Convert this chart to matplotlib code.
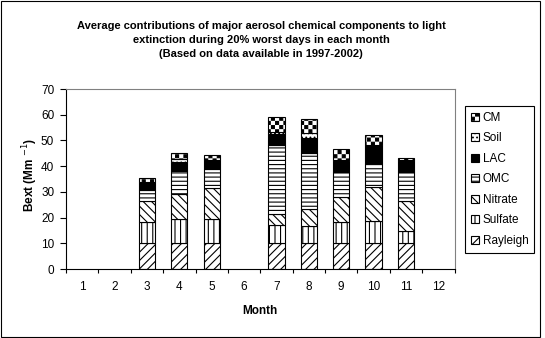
import warnings

import matplotlib
matplotlib.use("Agg")
import matplotlib.hatch as mhatch
import matplotlib.pyplot as plt
import numpy as np
from matplotlib.patches import Rectangle
from matplotlib.path import Path
from matplotlib.transforms import IdentityTransform

warnings.filterwarnings("ignore")

# extinction by component, Mm^-1, 20% worst days per month
months = [1, 2, 3, 4, 5, 6, 7, 8, 9, 10, 11, 12]
rayleigh = [0, 0, 10, 10, 10, 0, 10, 10, 10, 10, 10, 0]
sulfate = [0, 0, 8.2, 9.6, 9.6, 0, 7.3, 6.8, 8.3, 8.8, 4.9, 0]
nitrate = [0, 0, 8.2, 9.6, 12.0, 0, 4.2, 6.4, 9.6, 13.2, 11.7, 0]
omc = [0, 0, 4.3, 9.1, 7.4, 0, 26.7, 21.8, 10.0, 9.4, 11.3, 0]
lac = [0, 0, 3.2, 3.3, 3.4, 0, 4.3, 6.0, 4.0, 6.8, 4.2, 0]
soil = [0, 0, 0.1, 1.2, 0.1, 0, 0.7, 1.9, 0.6, 0.1, 0.1, 0]
cm = [0, 0, 1.4, 2.3, 1.8, 0, 5.8, 5.5, 4.2, 3.8, 1.0, 0]

components = ["Rayleigh", "Sulfate", "Nitrate", "OMC", "LAC", "Soil", "CM"]
series = [rayleigh, sulfate, nitrate, omc, lac, soil, cm]


class CheckerHatch(mhatch.HatchPatternBase):
    """Filled checkerboard, triggered by 'c' in the hatch string."""

    def __init__(self, hatch, density):
        self.num_cells = hatch.count("c") * density
        self.num_vertices = 5 * (self.num_cells ** 2 // 2) if self.num_cells else 0

    def set_vertices_and_codes(self, vertices, codes):
        n = self.num_cells
        s = 1.0 / n
        inset = 0.006
        k = 0
        for i in range(n):
            for j in range(n):
                if (i + j) % 2:
                    continue
                x0, y0 = i * s + inset, j * s + inset
                x1, y1 = (i + 1) * s - inset, (j + 1) * s - inset
                vertices[k:k + 5] = [(x0, y0), (x1, y0), (x1, y1), (x0, y1), (x0, y0)]
                codes[k:k + 5] = [Path.MOVETO, Path.LINETO, Path.LINETO,
                                  Path.LINETO, Path.CLOSEPOLY]
                k += 5


mhatch._hatch_types.append(CheckerHatch)

plt.rcParams["font.family"] = ["Liberation Sans", "DejaVu Sans"]
plt.rcParams["hatch.linewidth"] = 0.8
plt.rcParams["hatch.color"] = "black"

hatches = ["////", "|||", "\\\\\\\\", "----", None, "....", "cccc"]
faces = ["white", "white", "white", "white", "black", "white", "white"]

W, H = 545, 338
fig = plt.figure(figsize=(W / 100, H / 100), dpi=100)
ax = fig.add_axes([66 / W, (H - 269) / H, (454.5 - 66) / W, (269 - 89) / H])

x = np.arange(len(months))
bottom = np.zeros(len(months))
bars = []
for name, vals, hatch, face in zip(components, series, hatches, faces):
    vals = np.array(vals, dtype=float)
    # months without data get no bar at all
    shown = np.where(vals > 0, vals, np.nan)
    b = ax.bar(x, shown, width=0.5, bottom=bottom, color=face, edgecolor="black",
               linewidth=0.8, hatch=hatch, label=name)
    bars.append(b)
    bottom += vals

ax.set_xlim(-0.5, len(months) - 0.5)
ax.set_ylim(0, 70)
ax.set_yticks(np.arange(0, 71, 10))
ax.set_xticks(np.arange(len(months) + 1) - 0.5)
ax.set_xticklabels([])
ax.set_xticks(x, minor=True)
ax.set_xticklabels([str(m) for m in months], minor=True)
ax.tick_params(axis="x", which="major", direction="out", length=3, width=0.8)
ax.tick_params(axis="x", which="minor", length=0, pad=9, labelsize=8.5)
ax.tick_params(axis="y", direction="out", length=4.5, width=0.8, pad=4, labelsize=8.5)

for side in ("top", "right"):
    ax.spines[side].set_color("#808080")
    ax.spines[side].set_linewidth(0.8)
for side in ("left", "bottom"):
    ax.spines[side].set_linewidth(0.8)

ax.set_xlabel("Month", fontsize=8.5, fontweight="bold", labelpad=8)
ax.set_ylabel("Bext (Mm $^{-1}$)", fontsize=8.5, fontweight="bold")
ax.yaxis.set_label_coords(-0.067, 0.52)

fig.text(261 / W, 1 - 40 / H,
         "Average contributions of major aerosol chemical components to light\n"
         "extinction during 20% worst days in each month\n"
         "(Based on data available in 1997-2002)",
         ha="center", va="center", fontsize=8, fontweight="bold", linespacing=1.55)

leg = ax.legend([b[0] for b in bars[::-1]], components[::-1],
                loc="upper left", bbox_to_anchor=(465 / W, 1 - 106 / H),
                bbox_transform=fig.transFigure, borderaxespad=0, fontsize=8.5,
                handlelength=0.7, handleheight=0.7, handletextpad=0.3,
                labelspacing=0.72, borderpad=0.5, fancybox=False,
                framealpha=1, edgecolor="black")
leg.get_frame().set_linewidth(0.8)

# outer frame around the whole chart
fig.add_artist(Rectangle((0.5, 1.5), 539.5, 336, transform=IdentityTransform(),
                         fill=False, edgecolor="black", linewidth=0.8))

fig.savefig("out.png", dpi=100)
